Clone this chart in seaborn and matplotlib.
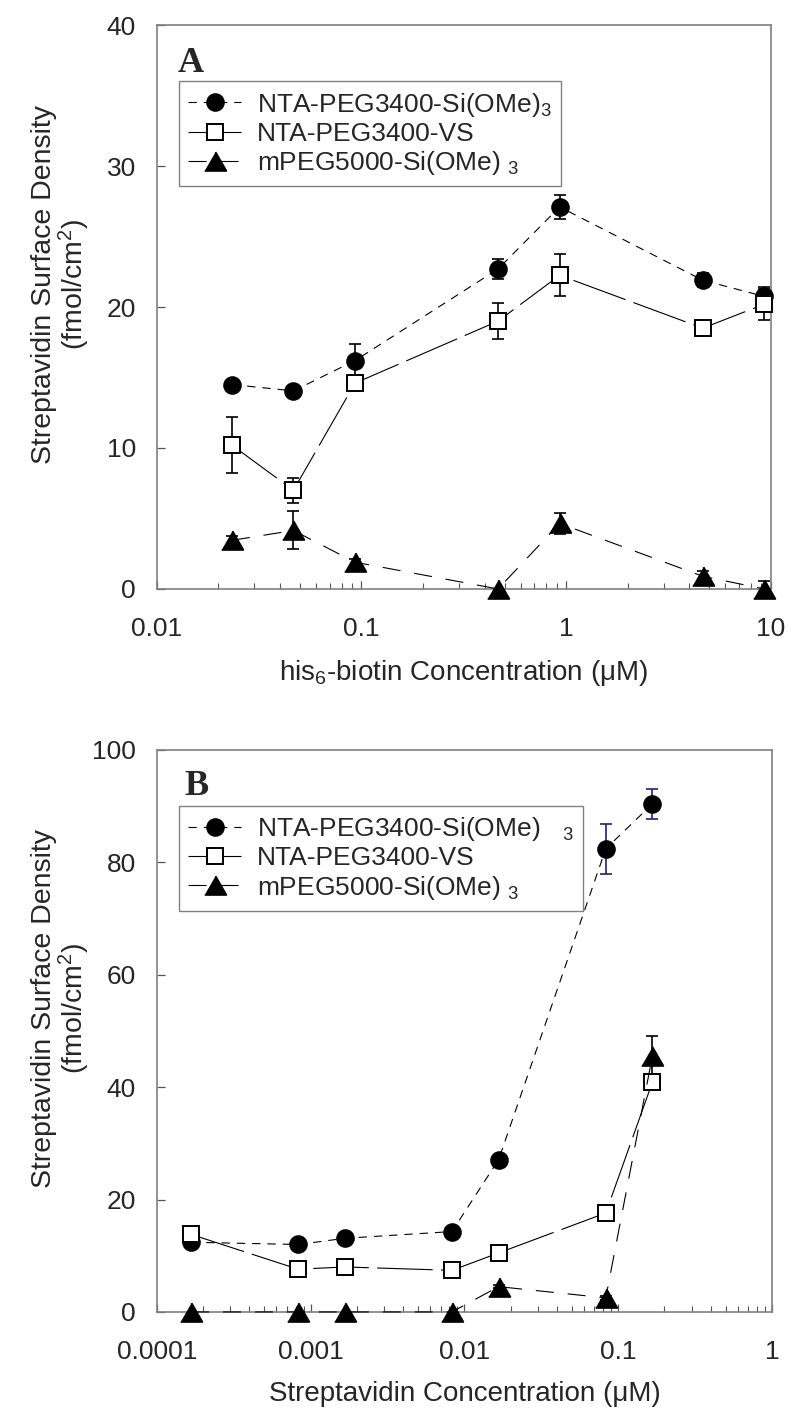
import numpy as np
import matplotlib
matplotlib.use("Agg")
import matplotlib.pyplot as plt
import seaborn as sns

# Panel A - his6-biotin concentration (uM)
conc_a = [0.0233, 0.0465, 0.093, 0.465, 0.93, 4.65, 9.3]
nta_si_a = [14.5, 14.05, 16.2, 22.7, 27.1, 21.9, 20.75]
nta_si_a_err = [0.3, 0.3, 1.2, 0.7, 0.85, 0.5, 0.65]
nta_vs_a = [10.2, 7.0, 14.6, 19.0, 22.25, 18.5, 20.2]
nta_vs_a_err = [2.0, 0.9, 0.4, 1.3, 1.5, 0.3, 1.1]
mpeg_a = [3.45, 4.15, 1.9, 0.0, 4.65, 0.9, 0.0]
mpeg_a_err = [0.3, 1.35, 0.2, 0.0, 0.75, 0.4, 0.6]

# Panel B - streptavidin concentration (uM)
conc_b = [0.000167, 0.00083, 0.00167, 0.0083, 0.0167, 0.083, 0.167]
nta_si_b = [12.4, 12.0, 13.1, 14.3, 27.1, 82.4, 90.4]
nta_si_b_err = [0.5, 0.5, 0.5, 0.5, 0.5, 4.5, 2.7]
nta_vs_b = [13.8, 7.6, 8.0, 7.4, 10.5, 17.6, 40.9]
nta_vs_b_err = [0.0, 0.0, 0.0, 0.0, 0.0, 0.0, 0.0]
mpeg_b = [0.0, 0.0, 0.0, 0.0, 4.5, 2.5, 45.6]
mpeg_b_err = [0.0, 0.0, 0.0, 0.0, 0.3, 0.3, 3.5]

labels_a = ["NTA-PEG3400-Si(OMe)$_3$", "NTA-PEG3400-VS", "mPEG5000-Si(OMe) ${}_3$"]
labels_b = ["NTA-PEG3400-Si(OMe)   ${}_3$", "NTA-PEG3400-VS", "mPEG5000-Si(OMe) ${}_3$"]

sns.set_style("ticks")
plt.rcParams["font.family"] = ["Liberation Sans", "DejaVu Sans"]
plt.rcParams["mathtext.fontset"] = "custom"
plt.rcParams["mathtext.rm"] = "Liberation Sans"
plt.rcParams["mathtext.it"] = "Liberation Sans:italic"
plt.rcParams["lines.scale_dashes"] = False

# slightly wide triangle like the original
tri = [(-1.0, -0.87), (1.0, -0.87), (0.0, 0.87)]

# marker, face colour, dash pattern, marker size
styles = [
    ("o", "black", (0, (6, 5)), 12),
    ("s", "white", (0, (40, 6)), 11.5),
    (tri, "black", (0, (13, 10)), 15.5),
]

fig = plt.figure(figsize=(8, 14.24), dpi=100)
ax_a = fig.add_axes([0.196, 0.5864, 0.7675, 0.396])
ax_b = fig.add_axes([0.196, 0.0787, 0.769, 0.3947])


def draw_panel(ax, conc, series, errs, labels, err_colors):
    handles = []
    for vals, err, (mk, fc, ls, ms), ec in zip(series, errs, styles, err_colors):
        err = np.array(err)
        x = np.array(conc)
        y = np.array(vals)
        keep = err > 0
        if keep.any():
            ax.errorbar(x[keep], y[keep], yerr=err[keep], fmt="none", ecolor=ec,
                        elinewidth=1.2, capsize=4.5, capthick=1.2, zorder=2, clip_on=False)
        sns.lineplot(x=x, y=y, ax=ax, color="black", linewidth=0.8, linestyle=ls,
                     marker=mk, markersize=ms, markerfacecolor=fc, markeredgecolor="black",
                     markeredgewidth=1.4, errorbar=None, clip_on=False, zorder=3)
        handles.append(ax.lines[-1])
    leg = ax.legend(handles, labels, loc="upper left", bbox_to_anchor=(0.036, 0.90),
                    borderaxespad=0, frameon=True, fancybox=False, edgecolor="#808080",
                    framealpha=1, fontsize=19, handlelength=2.0, handletextpad=0.6,
                    borderpad=0.35, labelspacing=0.12)
    leg.get_frame().set_linewidth(1.0)

    ax.set_xscale("log")
    for sp in ax.spines.values():
        sp.set_color("#808080")
        sp.set_linewidth(1.2)
    ax.tick_params(axis="both", which="major", direction="in", length=6, width=0.9,
                   color="#555555", labelsize=19)
    ax.tick_params(axis="x", which="major", pad=20)
    ax.tick_params(axis="y", which="major", pad=15)
    ax.tick_params(axis="x", which="minor", direction="in", length=4, width=0.8,
                   color="#555555")
    ax.tick_params(axis="y", which="minor", left=False)
    ax.set_ylabel("Streptavidin Surface Density\n(fmol/cm$^2$)", fontsize=20.5, linespacing=1.0)
    ax.yaxis.set_label_coords(-0.105, 0.54)


draw_panel(ax_a, conc_a, [nta_si_a, nta_vs_a, mpeg_a], [nta_si_a_err, nta_vs_a_err, mpeg_a_err],
           labels_a, ["black", "black", "black"])
ax_a.set_xlim(0.01, 10)
ax_a.set_ylim(0, 40)
ax_a.set_yticks([0, 10, 20, 30, 40])
ax_a.set_xticks([0.01, 0.1, 1, 10])
ax_a.set_xticklabels(["0.01", "0.1", "1", "10"])
ax_a.set_xlabel("his$_6$-biotin Concentration (\u03bcM)", fontsize=20)
ax_a.xaxis.set_label_coords(0.5, -0.122)
ax_a.text(0.034, 0.917, "A", transform=ax_a.transAxes, fontsize=26, fontweight="bold",
          family="Liberation Serif", va="baseline", ha="left")

draw_panel(ax_b, conc_b, [nta_si_b, nta_vs_b, mpeg_b], [nta_si_b_err, nta_vs_b_err, mpeg_b_err],
           labels_b, ["#1f1f7a", "black", "black"])
ax_b.set_xlim(0.0001, 1)
ax_b.set_ylim(0, 100)
ax_b.set_yticks([0, 20, 40, 60, 80, 100])
ax_b.set_xticks([0.0001, 0.001, 0.01, 0.1, 1])
ax_b.set_xticklabels(["0.0001", "0.001", "0.01", "0.1", "1"])
ax_b.set_xlabel("Streptavidin Concentration (\u03bcM)", fontsize=20)
ax_b.xaxis.set_label_coords(0.5, -0.122)
ax_b.text(0.045, 0.92, "B", transform=ax_b.transAxes, fontsize=26, fontweight="bold",
          family="Liberation Serif", va="baseline", ha="left")

fig.savefig("out.png", dpi=100)
